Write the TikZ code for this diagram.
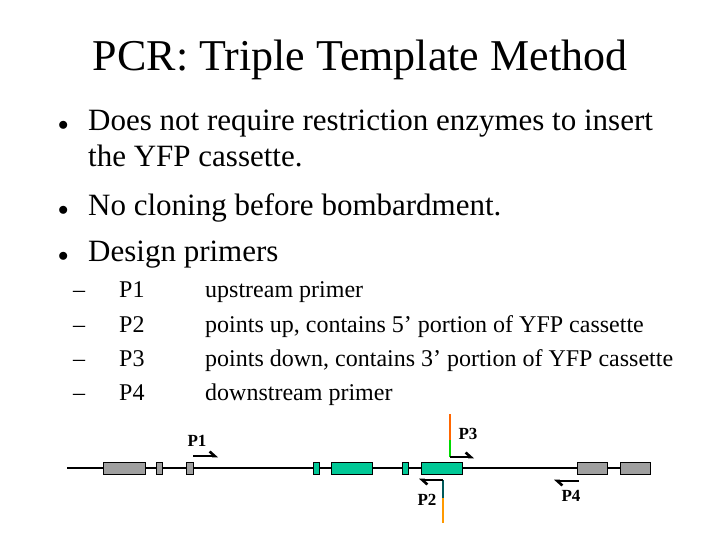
\documentclass[tikz,border=0pt]{standalone}
\usepackage{fontspec}
\setmainfont{Liberation Serif}
\usetikzlibrary{arrows.meta}
\definecolor{yfpgreen}{RGB}{0,200,150}
\begin{document}
\begin{tikzpicture}
    [x=1pt,y=-1pt,inner sep=0pt,
     gene/.style={draw,line width=0.8pt,fill=gray!75!white},
     yfp/.style={draw,line width=0.8pt,fill=yfpgreen},
     primer/.style={line width=2.6pt,-{Straight Barb[length=5pt,width=9pt,left]}},
     plabel/.style={font=\fontsize{17}{17}\selectfont\bfseries}]
    \useasboundingbox (0,0) rectangle (720,540);
    \node (title) at (360,60) {\fontsize{44}{44}\selectfont PCR: Triple Template Method};
    \node [anchor=base west] (b1) at (58,131) {\fontsize{22}{22}\selectfont $\bullet$};
    \node [anchor=base west] (t1) at (88,131) {\fontsize{31}{31}\selectfont Does not require restriction enzymes to insert};
    \node [anchor=base west] (t1b) at (88,167) {\fontsize{31}{31}\selectfont the YFP cassette.};
    \node [anchor=base west] (b2) at (58,215) {\fontsize{22}{22}\selectfont $\bullet$};
    \node [anchor=base west] (t2) at (88,215) {\fontsize{31}{31}\selectfont No cloning before bombardment.};
    \node [anchor=base west] (b3) at (58,261) {\fontsize{22}{22}\selectfont $\bullet$};
    \node [anchor=base west] (t3) at (88,261) {\fontsize{31}{31}\selectfont Design primers};
    \foreach \p/\d/\y in {P1/upstream primer/297,
        P2/{points up, contains 5’ portion of YFP cassette}/332,
        P3/{points down, contains 3’ portion of YFP cassette}/366,
        P4/downstream primer/400}{
      \node [anchor=base west] (dash\p) at (73,\y) {\fontsize{24}{24}\selectfont –};
      \node [anchor=base west] (name\p) at (119,\y) {\fontsize{24}{24}\selectfont \p};
      \node [anchor=base west] (desc\p) at (205,\y) {\fontsize{24}{24}\selectfont \d};
    }
    % chromosome line and exons
    \draw [line width=1.5pt] (67,468) -- (650,468);
    \foreach \a/\b in {103/145,156/162,186/193,577/607,620/650}
      \draw [gene] (\a,462) rectangle (\b,474);
    \foreach \a/\b in {313/319,331/372,402/408,421/462}
      \draw [yfp] (\a,462) rectangle (\b,474);
    % primers
    \coordinate (p1s) at (193,456);
    \coordinate (p1e) at (218,456);
    \draw [primer] (p1s) -- (p1e);
    \node [plabel] (lp1) at (197,441) {P1};
    \draw [line width=2.4pt,orange!80!red] (450,414) -- (450,440);
    \draw [line width=2.4pt,green!85!black] (450,440) -- (450,457);
    \draw [primer] (450,457) -- (474,457);
    \node [plabel] (lp3) at (468,434) {P3};
    \draw [line width=2.4pt,teal!70!black] (443,480) -- (443,498);
    \draw [line width=2.4pt,orange!80!yellow] (443,498) -- (443,523);
    \draw [primer] (443,480) -- (419,480);
    \node [plabel] (lp2) at (427,500) {P2};
    \coordinate (p4s) at (579,481);
    \coordinate (p4e) at (554,481);
    \draw [primer] (p4s) -- (p4e);
    \node [plabel] (lp4) at (571,496) {P4};
\end{tikzpicture}
\end{document}
